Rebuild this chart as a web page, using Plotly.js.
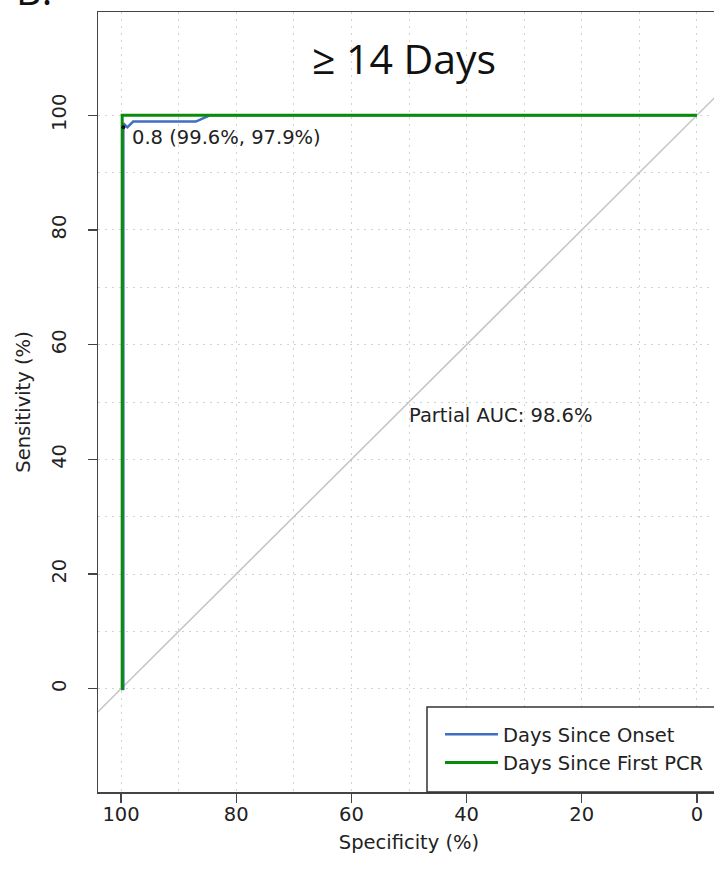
<!DOCTYPE html>
<html>
<head>
<meta charset="utf-8">
<script src="https://cdn.plot.ly/plotly-3.0.1.min.js"></script>
<style>
html, body { margin:0; padding:0; overflow:hidden; background:#fff; }
#chart { width:740px; height:882px; }
</style>
</head>
<body>
<div id="chart"></div>
<script>
// ROC data (specificity %, sensitivity %)
const onsetSpec = [100, 99.6, 99.6, 98.9, 97.9, 87.0, 84.6, 0];
const onsetSens = [0, 0, 98.6, 97.9, 98.9, 98.9, 100, 100];
const pcrSpec = [100, 99.8, 99.8, 0];
const pcrSens = [0, 0, 100, 100];
const seriesNames = ["Days Since Onset", "Days Since First PCR"];
const diagSpec = [130, -30];
const diagSens = diagSpec.map(v => 100 - v);
const thrSpec = [99.6];
const thrSens = [97.9];
const thrLabel = "0.8 (99.6%, 97.9%)";
const aucLabel = "Partial AUC: 98.6%";
const aucPos = [50, 50];
const tickVals = [0, 20, 40, 60, 80, 100];
const minorVals = [10, 30, 50, 70, 90];
const titleText = "\u2265 14 Days";

const font = "DejaVu Sans, Liberation Sans, Arial, sans-serif";
const fs = 19.5;
const gridStyle = { color: "#d2d2d2", dash: "2px,5px" };

const traces = [
  { x: diagSpec, y: diagSens, mode: "lines", line: { color: "#c4c4c4", width: 1.5 }, showlegend: false, hoverinfo: "skip" },
  { x: onsetSpec, y: onsetSens, mode: "lines", name: seriesNames[0], legendgroup: "a",
    line: { color: "#3d6fc2", width: 2.5, shape: "linear" } },
  { x: pcrSpec, y: pcrSens, mode: "lines", name: seriesNames[1], legendgroup: "b",
    line: { color: "#0a8c0a", width: 3 } },
  { x: thrSpec, y: thrSens, mode: "markers", marker: { color: "#111", size: 4 }, showlegend: false }
];

const axisCommon = {
  showline: true, mirror: true, linecolor: "#444", linewidth: 1.5,
  ticks: "outside", ticklen: 9, tickcolor: "#444", tickwidth: 1.2,
  tickmode: "array", tickvals: tickVals,
  showgrid: true, gridcolor: gridStyle.color, griddash: gridStyle.dash, gridwidth: 1,
  minor: { tickmode: "array", tickvals: minorVals, showgrid: true, gridcolor: gridStyle.color, griddash: gridStyle.dash, gridwidth: 1, ticklen: 0 },
  zeroline: false,
  tickfont: { family: font, size: fs, color: "#222" }
};

const layout = {
  width: 740, height: 882,
  margin: { l: 98, r: 20, t: 12, b: 90 },
  paper_bgcolor: "#fff", plot_bgcolor: "#fff",
  font: { family: font, color: "#222" },
  title: { text: titleText, font: { family: "Open Sans, Lato, sans-serif", size: 41, color: "#111" },
           x: (404 - 98) / 622, xref: "paper", xanchor: "center", y: 1 - 60/882, yref: "container", yanchor: "middle" },
  xaxis: Object.assign({}, axisCommon, {
    range: [104, -4], ticklabelstandoff: -5,
    title: { text: "Specificity (%)", font: { family: font, size: fs, color: "#222" }, standoff: 10 }
  }),
  yaxis: Object.assign({}, axisCommon, {
    range: [-18, 118], tickangle: -90, ticklabelstandoff: 14,
    title: { text: "Sensitivity (%)", font: { family: font, size: fs, color: "#222" }, standoff: 12 }
  }),
  showlegend: true,
  legend: {
    x: (440 - 98) / 622, xanchor: "left", y: (792 - 715) / 780, yanchor: "top",
    bgcolor: "rgba(0,0,0,0)", borderwidth: 0, itemwidth: 53, tracegroupgap: 0,
    font: { family: font, size: fs, color: "#222" }
  },
  shapes: [
    { type: "rect", xref: "paper", yref: "paper", x0: (427 - 98) / 622, x1: 1.2, y0: 0, y1: (792 - 707) / 780,
      fillcolor: "#fff", line: { color: "#333", width: 1.5 }, layer: "above" }
  ],
  annotations: [
    { x: thrSpec[0], y: thrSens[0], xref: "x", yref: "y", text: thrLabel, showarrow: false,
      xanchor: "left", yanchor: "top", xshift: 7, yshift: 3, font: { family: font, size: fs, color: "#222" } },
    { x: aucPos[0], y: aucPos[1], xref: "x", yref: "y", text: aucLabel, showarrow: false,
      xanchor: "left", yanchor: "top", xshift: -2, font: { family: font, size: fs, color: "#222" } },
    { x: (14 - 98) / 622, y: (792 - 19) / 780, xref: "paper", yref: "paper", text: "B.", showarrow: false,
      xanchor: "left", yanchor: "bottom", font: { family: "Open Sans, Lato, sans-serif", size: 40, color: "#111" } }
  ]
};

Plotly.newPlot("chart", traces, layout, { displayModeBar: false, staticPlot: true });
</script>
</body>
</html>
